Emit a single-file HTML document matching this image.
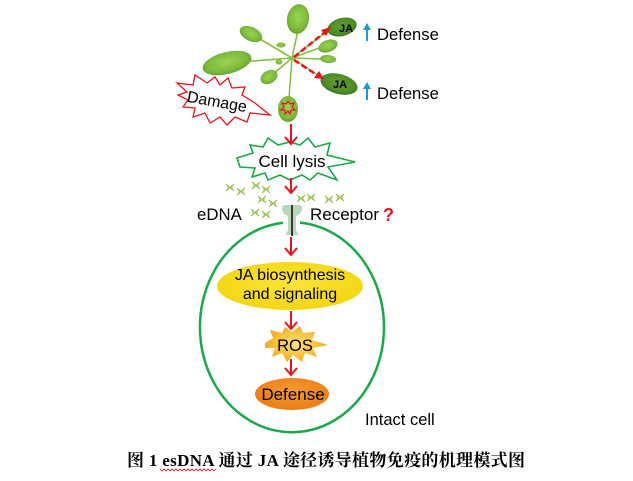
<!DOCTYPE html>
<html><head><meta charset="utf-8">
<style>
html,body{margin:0;padding:0;background:#fff;}
svg{display:block;}
</style></head>
<body>
<svg width="633" height="481" viewBox="0 0 633 481" xmlns="http://www.w3.org/2000/svg">
<defs>
<radialGradient id="lg" cx="50%" cy="45%" r="60%">
<stop offset="0" stop-color="#9ad450"/><stop offset="0.7" stop-color="#7cb83c"/><stop offset="1" stop-color="#5a9828"/>
</radialGradient>
<radialGradient id="dg" cx="50%" cy="45%" r="60%">
<stop offset="0" stop-color="#64a232"/><stop offset="0.7" stop-color="#4d8b27"/><stop offset="1" stop-color="#336a1a"/>
</radialGradient>
<radialGradient id="ros" cx="50%" cy="50%" r="55%">
<stop offset="0" stop-color="#fde080"/><stop offset="0.6" stop-color="#f9c23a"/><stop offset="1" stop-color="#f3a41c"/>
</radialGradient>
<radialGradient id="ja" cx="50%" cy="45%" r="60%">
<stop offset="0" stop-color="#fbe53a"/><stop offset="1" stop-color="#f3d40e"/>
</radialGradient>
<radialGradient id="df" cx="50%" cy="40%" r="60%">
<stop offset="0" stop-color="#f69a35"/><stop offset="1" stop-color="#ea7d12"/>
</radialGradient>
<g id="dna" fill="none" stroke="#8cba3e" stroke-width="1">
<path d="M0,0 C3,3 5,4 8,7 M0,7 C3,4 5,3 8,0 M2,1 L2,6 M6,1 L6,6"/>
</g>
</defs>

<!-- Plant stems -->
<g stroke="#86bf45" stroke-width="1.6" fill="none">
<line x1="292" y1="58" x2="298" y2="30"/>
<line x1="292" y1="58" x2="255" y2="36"/>
<line x1="292" y1="58" x2="240" y2="62"/>
<line x1="292" y1="58" x2="322" y2="47"/>
<line x1="292" y1="58" x2="322" y2="59"/>
<line x1="292" y1="58" x2="272" y2="75"/>
<line x1="292" y1="58" x2="289" y2="98"/>
<line x1="292" y1="58" x2="330" y2="29"/>
<line x1="292" y1="58" x2="325" y2="80"/>
</g>
<!-- Leaves -->
<ellipse cx="298" cy="19" rx="11" ry="15" transform="rotate(10 298 19)" fill="url(#lg)"/>
<ellipse cx="251" cy="34" rx="12" ry="7" transform="rotate(25 251 34)" fill="url(#lg)"/>
<ellipse cx="227" cy="63" rx="25" ry="11" transform="rotate(-14 227 63)" fill="url(#lg)"/>
<ellipse cx="328" cy="46" rx="10" ry="6" transform="rotate(-20 328 46)" fill="url(#lg)"/>
<ellipse cx="328" cy="59" rx="8" ry="4" transform="rotate(5 328 59)" fill="url(#lg)"/>
<ellipse cx="269" cy="77" rx="9" ry="6.5" transform="rotate(-30 269 77)" fill="url(#lg)"/>
<ellipse cx="281" cy="45" rx="4.5" ry="2.5" fill="url(#lg)"/>
<ellipse cx="279" cy="62" rx="3.5" ry="2.5" fill="url(#lg)"/>
<ellipse cx="288" cy="109" rx="10" ry="13" fill="url(#lg)"/>
<ellipse cx="342" cy="27" rx="15" ry="9" transform="rotate(-15 342 27)" fill="url(#dg)"/>
<ellipse cx="339" cy="84" rx="19" ry="10" transform="rotate(15 339 84)" fill="url(#dg)"/>
<text x="346" y="32" font-family="'Liberation Sans',sans-serif" font-weight="bold" font-size="11" text-anchor="middle" fill="#000">JA</text>
<text x="340" y="88" font-family="'Liberation Sans',sans-serif" font-weight="bold" font-size="11" text-anchor="middle" fill="#000">JA</text>
<!-- damage mark on leaf -->
<polygon points="288,101 290,104 294,103 292,107 295,110 291,110 290,114 288,111 285,114 285,110 281,110 284,107 282,103 286,104" fill="none" stroke="#e8141b" stroke-width="1.2"/>
<!-- dashed red arrows -->
<g stroke="#e8141b" stroke-width="2.5" stroke-dasharray="6,3" fill="none">
<line x1="294" y1="57" x2="324" y2="33"/>
<line x1="294" y1="60" x2="317" y2="75"/>
</g>
<polygon points="331,27 321,30 326,36" fill="#e8141b"/>
<polygon points="324,79 314,78 319,71" fill="#e8141b"/>

<!-- Defense top -->
<g fill="#1a9ad6" stroke="#1a9ad6">
<line x1="367" y1="29" x2="367" y2="41" stroke-width="2"/>
<polygon points="367,23 363,30 371,30" stroke="none"/>
<line x1="367" y1="88" x2="367" y2="100" stroke-width="2"/>
<polygon points="367,82 363,89 371,89" stroke="none"/>
</g>
<text x="377" y="40" font-family="'Liberation Sans',sans-serif" font-size="16.6" fill="#000">Defense</text>
<text x="377" y="99" font-family="'Liberation Sans',sans-serif" font-size="16.6" fill="#000">Defense</text>

<!-- Damage starburst -->
<polygon points="177,83 193,85 195,75 207,83 215,77 220,85 228,78 232,88 245,87 242,95 255,103 270,115 250,113 247,122 235,117 227,125 220,117 210,123 205,113 193,117 195,108 183,107 188,100 178,95 187,92" fill="#fff" stroke="#e8141b" stroke-width="1.3"/>
<text x="217" y="107" font-family="'Liberation Sans',sans-serif" font-size="16" text-anchor="middle" transform="rotate(10 217 102)" fill="#000">Damage</text>

<!-- Cell lysis starburst -->
<polygon points="237,158 253,153 250,145 263,147 268,138 278,145 290,142 300,145 308,138 315,147 330,143 327,155 355,162 328,167 337,180 318,173 310,180 302,175 290,180 280,175 268,180 265,173 252,177 255,168 240,167" fill="#fff" stroke="#1aa84a" stroke-width="1.6"/>
<text x="292" y="167" font-family="'Liberation Sans',sans-serif" font-size="17" text-anchor="middle" fill="#000">Cell lysis</text>

<!-- red arrows -->
<g stroke="#e8141b" stroke-width="2" fill="none">
<line x1="291" y1="124" x2="291" y2="144"/><polyline points="285,137 291,144 297,137"/>
<line x1="291" y1="178" x2="291" y2="193"/><polyline points="285,186 291,193 297,186"/>
<line x1="291" y1="237" x2="291" y2="255"/><polyline points="285,248 291,255 297,248"/>
<line x1="291" y1="311" x2="291" y2="329"/><polyline points="285,322 291,329 297,322"/>
<line x1="291" y1="359" x2="291" y2="375"/><polyline points="285,368 291,375 297,368"/>
</g>

<!-- DNA fragments -->
<use href="#dna" x="226" y="184"/><use href="#dna" x="237" y="188"/>
<use href="#dna" x="252" y="182"/><use href="#dna" x="262" y="186"/>
<use href="#dna" x="258" y="196"/><use href="#dna" x="269" y="200"/>
<use href="#dna" x="251" y="209"/><use href="#dna" x="262" y="211"/>
<use href="#dna" x="297" y="195"/><use href="#dna" x="307" y="194"/>
<use href="#dna" x="325" y="196"/><use href="#dna" x="336" y="194"/>

<text x="197" y="220" font-family="'Liberation Sans',sans-serif" font-size="16.8" fill="#000">eDNA</text>
<text x="310" y="220" font-family="'Liberation Sans',sans-serif" font-size="17" fill="#000">Receptor</text>
<text x="383" y="221" font-family="'Liberation Sans',sans-serif" font-size="18" font-weight="bold" fill="#e8141b">?</text>

<!-- Cell -->
<path d="M300,222.6 A92,105 0 1,1 283,222.7" fill="none" stroke="#1aa84a" stroke-width="2.5"/>

<!-- Receptor -->
<path d="M282,208 Q282,205 286,205 L298,205 Q302,205 302,208 Q302,214 296,216 L296,230 Q298,233 298,235 L286,235 Q286,233 288,230 L288,216 Q282,214 282,208 Z" fill="#b9d6b9"/>
<line x1="292" y1="205" x2="292" y2="236" stroke="#111" stroke-width="1.6"/>

<!-- JA biosynthesis -->
<ellipse cx="290" cy="286" rx="73" ry="24" fill="url(#ja)"/>
<text x="290" y="280" font-family="'Liberation Sans',sans-serif" font-size="16" text-anchor="middle" fill="#000">JA biosynthesis</text>
<text x="290" y="299" font-family="'Liberation Sans',sans-serif" font-size="16" text-anchor="middle" fill="#000">and signaling</text>

<!-- ROS -->
<polygon points="265,343 273,338 270,330 282,333 285,327 292,332 300,326 303,333 315,332 312,340 328,345 313,348 317,357 305,353 302,362 293,355 287,362 282,353 272,357 275,348 265,348" fill="url(#ros)"/>
<text x="295" y="351" font-family="'Liberation Sans',sans-serif" font-size="16.5" text-anchor="middle" fill="#000">ROS</text>

<!-- Defense orange -->
<ellipse cx="292" cy="394" rx="37" ry="16" fill="url(#df)"/>
<text x="293" y="400" font-family="'Liberation Sans',sans-serif" font-size="17" text-anchor="middle" fill="#000">Defense</text>

<text x="365" y="425" font-family="'Liberation Sans',sans-serif" font-size="16.5" fill="#000">Intact cell</text>

<!-- Caption -->
<text x="127" y="466" textLength="398" lengthAdjust="spacing" font-family="'Liberation Serif','Noto Serif CJK SC',serif" font-weight="bold" font-size="17" fill="#000">图 1 esDNA 通过 JA 途径诱导植物免疫的机理模式图</text>
<polyline points="160,469 162,471 164,469 166,471 168,469 170,471 172,469 174,471 176,469 178,471 180,469 182,471 184,469 186,471 188,469 190,471 192,469 194,471 196,469 198,471 200,469 202,471 204,469 206,471 208,469 210,471 212,469 214,471 216,469" fill="none" stroke="#e8141b" stroke-width="0.8"/>
</svg>
</body></html>
